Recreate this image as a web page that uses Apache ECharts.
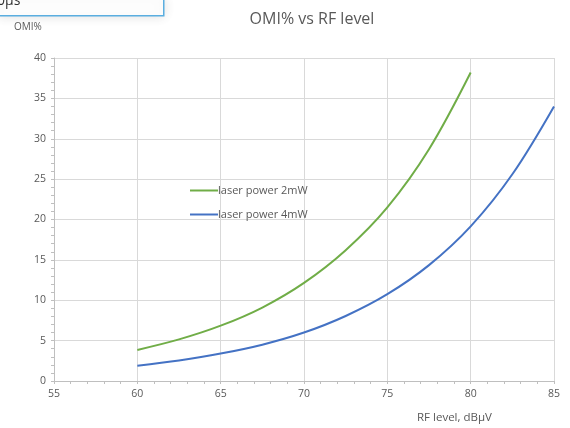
<!DOCTYPE html>
<html>
<head>
<meta charset="utf-8">
<script src="https://cdn.jsdelivr.net/npm/echarts@6/dist/echarts.min.js"></script>
<style>html,body{margin:0;padding:0;background:#fff;}#c{width:570px;height:428px;}</style>
</head>
<body>
<div id="c"></div>
<script>
const titleText = 'OMI% vs RF level';
const xName = 'RF level, dBμV';
const yName = 'OMI%';
const seriesNames = ['laser power 2mW', 'laser power 4mW'];
const rf2mW = [60, 62.5, 65, 67.5, 70, 72.5, 75, 77.5, 80];
const omi2mW = [3.85, 5.15, 6.85, 9.1, 12.15, 16.2, 21.5, 28.7, 38.2];
const rf4mW = [60, 62.5, 65, 67.5, 70, 72.5, 75, 77.5, 80, 82.5, 85];
const omi4mW = [1.9, 2.55, 3.4, 4.5, 6.0, 8.05, 10.75, 14.35, 19.15, 25.6, 34.0];

const chart = echarts.init(document.getElementById('c'));
const txt = '#595959';
chart.setOption({
  animation: false,
  backgroundColor: '#fff',
  title: {
    text: titleText, left: 307, top: 6, textAlign: 'center',
    textStyle: {fontFamily: 'Open Sans', fontSize: 16, fontWeight: 'normal', color: txt}
  },
  legend: {
    orient: 'vertical', left: 185, top: 180, itemGap: 13,
    itemWidth: 28, itemHeight: 2, icon: 'rect',
    textStyle: {fontFamily: 'Open Sans', fontSize: 11, color: txt, padding: [0,0,0,-5]},
    data: seriesNames
  },
  graphic: [
    {type: 'rect', left: -2, top: -2, shape: {width: 165, height: 17},
     style: {fill: '#fff', stroke: '#5aaee0', lineWidth: 1.5, shadowBlur: 12, shadowColor: 'rgba(0,0,0,0.12)'}},
    {type: 'text', left: -3, top: -6, style: {text: '0μs', fontFamily: 'Open Sans', fontSize: 14, fill: '#333'}},
    {type: 'text', left: 14, top: 22, style: {text: yName, fontFamily: 'Open Sans', fontSize: 10, fill: txt}},
    {type: 'text', left: 417, top: 412, style: {text: xName, fontFamily: 'Open Sans', fontSize: 11.5, fill: txt}}
  ],
  grid: {left: 54, right: 16, top: 58, bottom: 47},
  xAxis: {
    type: 'value', min: 55, max: 85, interval: 5,
    axisLine: {lineStyle: {color: '#bfbfbf'}},
    axisTick: {show: true, length: 3, lineStyle: {color: '#bfbfbf'}},
    minorTick: {show: true, splitNumber: 5, length: 3, lineStyle: {color: '#bfbfbf'}},
    splitLine: {show: true, lineStyle: {color: '#d9d9d9', width: 1}},
    axisLabel: {fontFamily: 'Open Sans', fontSize: 10.5, color: txt, margin: 8}
  },
  yAxis: {
    type: 'value', min: 0, max: 40, interval: 5,
    axisLine: {show: true, lineStyle: {color: '#bfbfbf'}},
    axisTick: {show: true, length: 3, lineStyle: {color: '#bfbfbf'}},
    minorTick: {show: true, splitNumber: 5, length: 3, lineStyle: {color: '#bfbfbf'}},
    splitLine: {show: true, lineStyle: {color: '#d9d9d9', width: 1}},
    axisLabel: {fontFamily: 'Open Sans', fontSize: 10.5, color: txt, margin: 8}
  },
  series: [
    {name: seriesNames[0], type: 'line', smooth: 0.35, showSymbol: false, symbol: 'none',
     color: '#70ad47', lineStyle: {width: 2, color: '#70ad47'},
     data: rf2mW.map((x, i) => [x, omi2mW[i]])},
    {name: seriesNames[1], type: 'line', smooth: 0.35, showSymbol: false, symbol: 'none',
     color: '#4472c4', lineStyle: {width: 2, color: '#4472c4'},
     data: rf4mW.map((x, i) => [x, omi4mW[i]])}
  ]
});
</script>
</body>
</html>
